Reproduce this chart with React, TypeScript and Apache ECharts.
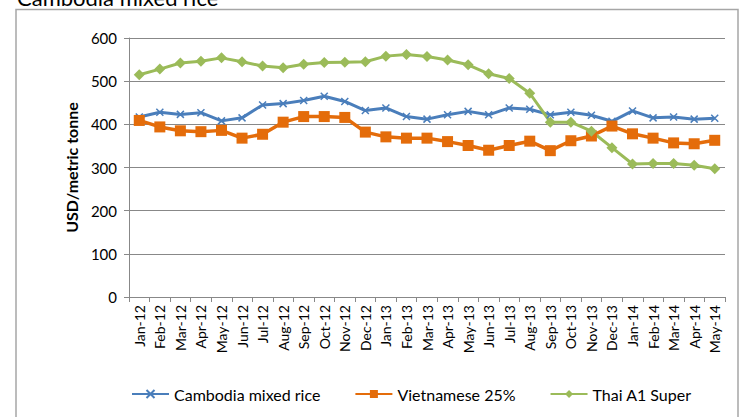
import React, { useEffect, useRef } from "react";
import * as echarts from "echarts";

const months = [
  "Jan-12", "Feb-12", "Mar-12", "Apr-12", "May-12", "Jun-12", "Jul-12", "Aug-12", "Sep-12", "Oct-12", "Nov-12", "Dec-12",
  "Jan-13", "Feb-13", "Mar-13", "Apr-13", "May-13", "Jun-13", "Jul-13", "Aug-13", "Sep-13", "Oct-13", "Nov-13", "Dec-13",
  "Jan-14", "Feb-14", "Mar-14", "Apr-14", "May-14",
];

const cambodia = [
  417, 428, 423, 427, 408, 415, 445, 448, 455, 465, 453, 432,
  438, 418, 412, 422, 430, 422, 438, 435, 422, 428, 421, 407,
  431, 415, 417, 412, 414,
];

const vietnamese = [
  409, 394, 385, 383, 386, 368, 377, 405, 418, 418, 416, 382,
  371, 368, 368, 360, 351, 340, 351, 361, 339, 362, 373, 396,
  378, 368, 357, 355, 363,
];

const thai = [
  515, 528, 542, 546, 554, 545, 535, 531, 539, 543, 544, 545,
  558, 562, 557, 549, 538, 517, 506, 472, 405, 405, 384, 346,
  308, 309, 309, 305, 297,
];

const yTicks = [0, 100, 200, 300, 400, 500, 600];

const FONT = "Lato, 'Open Sans', sans-serif";
const BLUE = "#4a7ebb";
const ORANGE = "#e46c0a";
const GREEN = "#9bbb59";
const GRAY = "#888888";

export default function App() {
  const ref = useRef<HTMLDivElement>(null);

  useEffect(() => {
    document.body.style.margin = "0";
    if (!ref.current) return;
    const chart = echarts.init(ref.current, null, { renderer: "svg" });
    chart.setOption({
      animation: false,
      backgroundColor: "#ffffff",
      textStyle: { fontFamily: FONT },
      graphic: [
        {
          type: "rect",
          shape: { x: 16, y: 9.5, width: 722, height: 420 },
          style: { fill: "none", stroke: "#a6a6a6", lineWidth: 1.5 },
          silent: true,
          z: 0,
        },
        {
          type: "text",
          x: 17,
          y: 8,
          style: {
            text: "Cambodia mixed rice",
            fontSize: 22,
            fontFamily: FONT,
            fill: "#000000",
            verticalAlign: "bottom",
            align: "left",
          },
        },
      ],
      legend: {
        left: 126,
        top: 381,
        itemWidth: 37,
        itemHeight: 10,
        itemGap: 34,
        textStyle: { fontSize: 16, fontFamily: FONT, color: "#000000" },
        data: ["Cambodia mixed rice", "Vietnamese 25%", "Thai A1 Super"],
      },
      grid: { left: 129, right: 19, top: 38, bottom: 120, containLabel: false },
      xAxis: {
        type: "category",
        data: months,
        boundaryGap: true,
        axisLine: { lineStyle: { color: GRAY, width: 1 } },
        axisTick: { show: true, length: 5, lineStyle: { color: GRAY }, alignWithLabel: false },
        axisLabel: {
          rotate: 90,
          interval: 0,
          fontSize: 14,
          fontFamily: FONT,
          color: "#000000",
          margin: 8,
        },
        splitLine: { show: false },
      },
      yAxis: {
        type: "value",
        min: yTicks[0],
        max: yTicks[yTicks.length - 1],
        interval: 100,
        name: "USD/metric tonne",
        nameLocation: "middle",
        nameGap: 50,
        nameRotate: 90,
        nameTextStyle: { fontSize: 16, fontWeight: "bold", fontFamily: FONT, color: "#000000" },
        axisLine: { show: true, lineStyle: { color: GRAY, width: 1 } },
        axisTick: { show: true, length: 5, lineStyle: { color: GRAY } },
        axisLabel: { fontSize: 15, fontFamily: FONT, color: "#000000", margin: 12 },
        splitLine: { show: true, lineStyle: { color: GRAY, width: 1 } },
      },
      series: [
        {
          name: "Cambodia mixed rice",
          type: "line",
          data: cambodia,
          symbol: "path://M0,0L10,10M10,0L0,10",
          symbolSize: 7,
          showAllSymbol: true,
          lineStyle: { color: BLUE, width: 3 },
          itemStyle: { color: BLUE, borderColor: BLUE, borderWidth: 1.5 },
        },
        {
          name: "Vietnamese 25%",
          type: "line",
          data: vietnamese,
          symbol: "rect",
          symbolSize: 11,
          showAllSymbol: true,
          lineStyle: { color: ORANGE, width: 3.5 },
          itemStyle: { color: ORANGE },
        },
        {
          name: "Thai A1 Super",
          type: "line",
          data: thai,
          symbol: "diamond",
          symbolSize: 11,
          showAllSymbol: true,
          lineStyle: { color: GREEN, width: 3 },
          itemStyle: { color: GREEN },
        },
      ],
    });
    return () => chart.dispose();
  }, []);

  return <div ref={ref} style={{ width: 744, height: 417 }} />;
}
